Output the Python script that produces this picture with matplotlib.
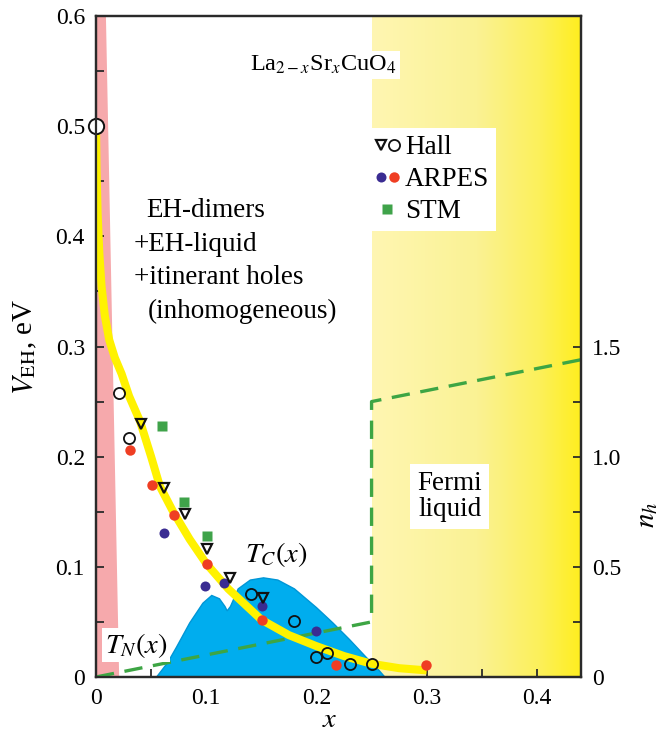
import matplotlib
matplotlib.use("Agg")
import matplotlib.pyplot as plt
import numpy as np
from matplotlib.colors import LinearSegmentedColormap
from matplotlib.legend_handler import HandlerTuple

plt.rcParams['font.family'] = ['Liberation Serif', 'DejaVu Serif']
plt.rcParams['mathtext.fontset'] = 'stix'

# ---- data ----
curve_x = [0, 0.0005, 0.0015, 0.003, 0.005, 0.008, 0.012, 0.017, 0.0233, 0.03, 0.04,
           0.05, 0.058, 0.07, 0.085, 0.1, 0.12, 0.15, 0.175, 0.2, 0.225, 0.25, 0.275, 0.3]
curve_v = [0.5, 0.46, 0.42, 0.385, 0.355, 0.328, 0.306, 0.29, 0.275, 0.255, 0.232,
           0.200, 0.173, 0.150, 0.125, 0.103, 0.080, 0.052, 0.038, 0.028, 0.019, 0.012,
           0.008, 0.006]

tc_x = [0.055, 0.065, 0.073, 0.085, 0.097, 0.105, 0.112, 0.117, 0.119, 0.122, 0.129,
        0.14, 0.152, 0.165, 0.18, 0.2, 0.215, 0.23, 0.245, 0.255, 0.262]
tc_v = [0, 0.013, 0.027, 0.049, 0.067, 0.074, 0.071, 0.064, 0.060, 0.064, 0.080,
        0.088, 0.090, 0.088, 0.080, 0.063, 0.049, 0.034, 0.018, 0.008, 0]

pink_x = [0, 0.021, 0.009, 0]
pink_v = [0, 0, 0.6, 0.6]

hall_tri_x = [0.041, 0.0615, 0.081, 0.101, 0.122, 0.1515]
hall_tri_v = [0.230, 0.172, 0.148, 0.116, 0.090, 0.072]
hall_circ_x = [0.021, 0.030, 0.1405, 0.18, 0.20, 0.21, 0.23, 0.2506]
hall_circ_v = [0.258, 0.217, 0.075, 0.051, 0.018, 0.0215, 0.0115, 0.012]
hall_big_x = [0.0]
hall_big_v = [0.5]
arpes_blue_x = [0.0615, 0.099, 0.116, 0.151, 0.1997]
arpes_blue_v = [0.131, 0.083, 0.085, 0.064, 0.042]
arpes_red_x = [0.031, 0.051, 0.071, 0.1005, 0.1506, 0.218, 0.299]
arpes_red_v = [0.206, 0.174, 0.147, 0.103, 0.052, 0.011, 0.011]
stm_x = [0.060, 0.080, 0.101]
stm_v = [0.228, 0.159, 0.128]

nh_x = [0, 0.25, 0.25, 0.44]
nh_v = [0, 0.25, 1.25, 1.44]

fermi_x0, fermi_x1 = 0.25, 0.44

x_ticks = [0, 0.1, 0.2, 0.3, 0.4]
x_ticklabels = ['0', '0.1', '0.2', '0.3', '0.4']
y_ticks = [0, 0.1, 0.2, 0.3, 0.4, 0.5, 0.6]
y_ticklabels = ['0', '0.1', '0.2', '0.3', '0.4', '0.5', '0.6']
r_ticks = [0, 0.5, 1.0, 1.5]
r_ticklabels = ['0', '0.5', '1.0', '1.5']

# ---- figure ----
fig = plt.figure(figsize=(6.71, 7.38), dpi=100)
ax = fig.add_axes([96/671, 1-677/738, 485/671, 661/738])
ax.set_xlim(0, 0.44)
ax.set_ylim(0, 0.6)
ax2 = ax.twinx()
ax2.set_ylim(0, 3.0)

fs = 17      # tick labels
fa = 19.5    # annotations
spc = '#2a2a2a'

cmap = LinearSegmentedColormap.from_list('fl', [(0, '#FFF6B2'), (0.5, '#FAF294'),
                                                (0.8, '#FCF05A'), (1, '#FFEE1E')])
grad = np.linspace(0, 1, 256).reshape(1, -1)
ax.imshow(grad, extent=[fermi_x0, fermi_x1, 0, 0.6], cmap=cmap, aspect='auto',
          zorder=0, interpolation='bicubic')

ax.fill(pink_x, pink_v, color='#F6A9AC', lw=0, zorder=1)
ax.fill(tc_x, tc_v, facecolor='#00ADEE', edgecolor='#0096D6', lw=1.0, zorder=2)

ax.plot(nh_x, nh_v, color='#3DA544', lw=2.4, ls=(0, (5.5, 3.2)),
        transform=ax2.transData, zorder=3)

ax.plot(curve_x, curve_v, color='#FFF200', lw=5.8, solid_capstyle='butt',
        solid_joinstyle='round', zorder=4)

ms = 7.5
h_tri, = ax.plot(hall_tri_x, hall_tri_v, ls='none', marker='v', ms=ms, mfc='none',
                 mec='#111111', mew=1.6, zorder=6)
h_circ, = ax.plot(hall_circ_x, hall_circ_v, ls='none', marker='o', ms=ms + 0.5, mfc='none',
                  mec='#111111', mew=1.3, zorder=6)
ax.plot(hall_big_x, hall_big_v, ls='none', marker='o', ms=11, mfc='white',
        mec='#111111', mew=1.4, zorder=7, clip_on=False)
h_blue, = ax.plot(arpes_blue_x, arpes_blue_v, ls='none', marker='o', ms=7.2, mfc='#3A2C92',
                  mec='none', zorder=5)
h_red, = ax.plot(arpes_red_x, arpes_red_v, ls='none', marker='o', ms=7.5, mfc='#EF3E23',
                 mec='none', zorder=5)
h_stm, = ax.plot(stm_x, stm_v, ls='none', marker='s', ms=7.2, mfc='#3FA34A',
                 mec='none', zorder=5)

leg = ax.legend([(h_tri, h_circ), (h_blue, h_red), h_stm], ['Hall', 'ARPES', 'STM'],
                handler_map={tuple: HandlerTuple(ndivide=None, pad=0.1)},
                loc='upper left', bbox_to_anchor=(0.563, 0.83), fontsize=fa,
                frameon=True, fancybox=False, framealpha=1, edgecolor='none',
                handlelength=0.85, handletextpad=0.22, labelspacing=0.26,
                borderpad=0.25, borderaxespad=0, markerscale=1.0)
leg.get_frame().set_linewidth(0)
leg.set_zorder(8)

# texts
ax.text(0.14, 0.5555, r'La$_{2-x}$Sr$_x$CuO$_4$', fontsize=17.5, ha='left',
        va='center', zorder=9, bbox=dict(facecolor='white', edgecolor='none', pad=2))
ax.text(0.046, 0.423, 'EH-dimers', fontsize=fa, ha='left', va='center', zorder=9)
ax.text(0.0345, 0.393, '+EH-liquid', fontsize=fa, ha='left', va='center', zorder=9)
ax.text(0.0345, 0.363, '+itinerant holes', fontsize=fa, ha='left', va='center', zorder=9)
ax.text(0.047, 0.332, '(inhomogeneous)', fontsize=fa, ha='left', va='center', zorder=9)
ax.text(0.321, 0.164, 'Fermi\nliquid', fontsize=fa, ha='center', va='center',
        linespacing=1.05, zorder=9,
        bbox=dict(facecolor='white', edgecolor='none', pad=5))
ax.text(0.164, 0.111, r'$T_C(x)$', fontsize=fa + 1, ha='center', va='center', zorder=9)
ax.text(0.0364, 0.029, r'$T_N(x)$', fontsize=fa + 1, ha='center', va='center', zorder=9,
        bbox=dict(facecolor='white', edgecolor='none', pad=2))

for a in (ax, ax2):
    for s in a.spines.values():
        s.set_linewidth(1.6)
        s.set_color(spc)

ax.set_xticks(x_ticks)
ax.set_xticklabels(x_ticklabels)
ax.set_xticks(np.arange(0.05, 0.44, 0.1), minor=True)
ax.set_yticks(y_ticks)
ax.set_yticklabels(y_ticklabels)
ax.set_yticks(np.arange(0.05, 0.6, 0.1), minor=True)
ax.tick_params(which='both', direction='in', length=6, width=1.3, color=spc,
               labelsize=fs, top=False, right=False, pad=8)

ax2.set_yticks(r_ticks)
ax2.set_yticklabels(r_ticklabels)
ax2.set_yticks([0.25, 0.75, 1.25], minor=True)
ax2.tick_params(which='both', direction='in', length=6, width=1.3, color=spc,
                labelsize=fs, pad=8)

ax.set_xlabel(r'$x$', fontsize=fa + 1)
ax.xaxis.set_label_coords(0.482, -0.047)
ax.set_ylabel(r'$V_{\rm EH}$, eV', fontsize=21)
ax.yaxis.set_label_coords(-0.118, 0.5)
ax2.set_ylabel(r'$n_h$', fontsize=fa + 1.5, rotation=90)
ax2.yaxis.set_label_coords(1.11, 0.245)

fig.savefig('out.png', dpi=100)
